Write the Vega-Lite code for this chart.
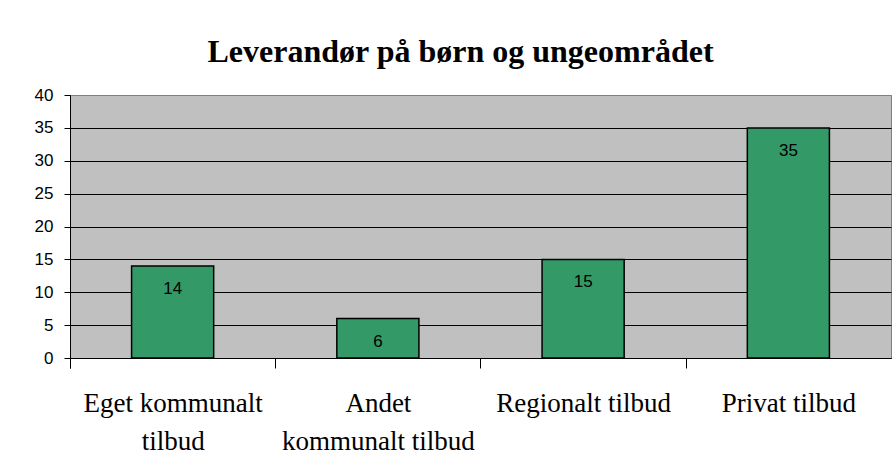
{
  "$schema": "https://vega.github.io/schema/vega-lite/v6.json",
  "width": 821,
  "height": 263,
  "autosize": {"type": "none"},
  "padding": {"left": 70, "top": 95, "right": 3, "bottom": 108},
  "background": "white",
  "title": {
    "text": "Leverandør på børn og ungeområdet",
    "font": "Liberation Serif",
    "fontSize": 32,
    "fontWeight": "bold",
    "color": "black",
    "anchor": "middle",
    "baseline": "alphabetic",
    "offset": 32,
    "dy": 40,
    "dx": -20
  },
  "config": {
    "view": {"fill": "#C0C0C0", "stroke": "#808080", "strokeWidth": 1}
  },
  "data": {
    "values": [
      {"kategori": "Eget kommunalt tilbud", "antal": 14},
      {"kategori": "Andet kommunalt tilbud", "antal": 6},
      {"kategori": "Regionalt tilbud", "antal": 15},
      {"kategori": "Privat tilbud", "antal": 35}
    ]
  },
  "encoding": {
    "x": {
      "field": "kategori",
      "type": "nominal",
      "sort": null,
      "scale": {"paddingInner": 0.6, "paddingOuter": 0.3},
      "axis": {
        "title": null,
        "labelAngle": 0,
        "labelFont": "Liberation Serif",
        "labelFontSize": 27,
        "labelColor": "black",
        "labelBaseline": "top",
        "labelLineHeight": 38,
        "labelPadding": 22,
        "labelLimit": 0,
        "labelOverlap": false,
        "labelOffset": 61.6,
        "labelExpr": "datum.value == 'Eget kommunalt tilbud' ? ['Eget kommunalt', 'tilbud'] : datum.value == 'Andet kommunalt tilbud' ? ['Andet', 'kommunalt tilbud'] : datum.value",
        "ticks": true,
        "bandPosition": 0,
        "tickOffset": -61.6,
        "tickExtra": true,
        "tickSize": 10,
        "tickColor": "black",
        "tickWidth": 1,
        "tickOpacity": 1,
        "domainColor": "black",
        "domainWidth": 1,
        "grid": false
      }
    },
    "y": {
      "field": "antal",
      "type": "quantitative",
      "scale": {"domain": [0, 40], "nice": false},
      "axis": {
        "title": null,
        "values": [0, 5, 10, 15, 20, 25, 30, 35, 40],
        "labelFont": "Liberation Sans",
        "labelFontSize": 17,
        "labelColor": "black",
        "labelPadding": 11,
        "tickSize": 6,
        "tickColor": "black",
        "domainColor": "black",
        "grid": true,
        "gridColor": {"condition": {"test": "datum.value == 40", "value": "#808080"}, "value": "black"},
        "gridWidth": 1
      }
    }
  },
  "layer": [
    {
      "mark": {"type": "bar", "fill": "#339966", "stroke": "black", "strokeWidth": 1.5}
    },
    {
      "mark": {"type": "text", "baseline": "middle", "dy": 23, "font": "Liberation Sans", "fontSize": 17, "color": "black"},
      "encoding": {"text": {"field": "antal", "type": "quantitative"}}
    }
  ]
}
